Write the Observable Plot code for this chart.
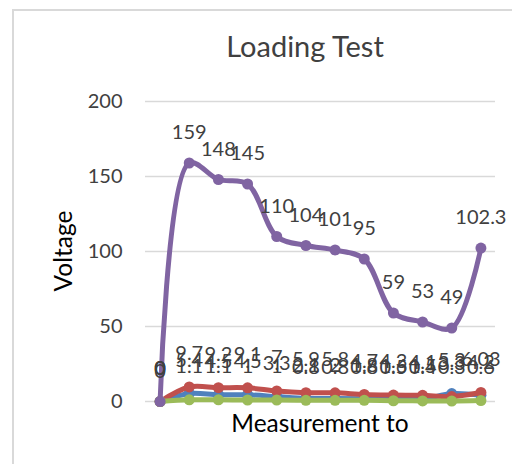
<!DOCTYPE html>
<html><head><meta charset="utf-8">
<script src="https://cdn.jsdelivr.net/npm/d3@7"></script>
<script src="https://cdn.jsdelivr.net/npm/@observablehq/plot@0.6"></script>
<style>
html,body{margin:0;padding:0;background:#fff;overflow:hidden;}
#wrap{position:relative;width:512px;height:464px;font-family:Lato,"Open Sans",sans-serif;color:#404040;}
#frame{position:absolute;left:12px;top:9px;width:600px;height:600px;border:2px solid #d9d9d9;box-sizing:border-box;}
#title{position:absolute;left:0;top:28px;width:610px;text-align:center;font-size:29px;}
#xlab{position:absolute;left:0;top:408px;width:640px;text-align:center;font-size:24.5px;color:#000;}
#ylab{position:absolute;left:62px;top:251px;transform:translate(-50%,-50%) rotate(-90deg);font-size:24.5px;color:#000;white-space:nowrap;}
#chart{position:absolute;left:0;top:0;}
</style></head>
<body><div id="wrap"><div id="frame"></div><div id="chart"></div>
<div id="title">Loading Test</div><div id="xlab">Measurement to</div><div id="ylab">Voltage</div></div>
<script>
const idx = [0,1,2,3,4,5,6,7,8,9,10,11];
const seriesNames = ["Blue","Red","Green","Purple"];
const blueVals = [0,5.4,4.5,4.5,3.3,2.1,2,1.8,1.6,1.5,5.3,4.2];
const redVals = [0,9.7,9.2,9.1,7,5.9,5.8,4.7,4.3,4.1,3.3,6.03];
const greenVals = [0,1.1,1.1,1,1,0.8,0.8,0.8,0.5,0.4,0.3,0.6];
const purpleVals = [0,159,148,145,110,104,101,95,59,53,49,102.3];
const colors = ["#4F81BD","#C0504D","#9BBB59","#8064A2"];
const yTicks = [0,50,100,150,200];

const all = [blueVals,redVals,greenVals,purpleVals];
const rows = [];
all.forEach((vals,s)=>vals.forEach((v,i)=>rows.push({s:seriesNames[s],x:idx[i],y:v})));

const marks = [
  Plot.ruleY(yTicks,{stroke:"#d9d9d9",strokeWidth:1.5}),
  Plot.axisY({ticks:yTicks,tickSize:0,tickPadding:23,fontSize:20,label:null,fill:"#404040"})
];
seriesNames.forEach((n,s)=>{
  const d = rows.filter(r=>r.s===n);
  marks.push(Plot.line(d,{x:"x",y:"y",stroke:colors[s],strokeWidth:5,curve:"catmull-rom"}));
  marks.push(Plot.dot(d,{x:"x",y:"y",fill:colors[s],r:5.5,stroke:"none"}));
});
seriesNames.forEach((n,s)=>{
  const d = rows.filter(r=>r.s===n);
  marks.push(Plot.text(d,{x:"x",y:"y",text:d=>String(d.y),dy:n==="Purple"?-30:-33,fill:"#404040",fontSize:20}));
});

const chart = Plot.plot({
  width:512,height:464,
  marginLeft:145,marginRight:17,marginTop:101,marginBottom:63,
  x:{domain:[-0.5,11.5],axis:null},
  y:{domain:[0,200],axis:null},
  style:{fontFamily:"Lato, 'Open Sans', sans-serif",background:"transparent",overflow:"visible"},
  marks
});
document.getElementById("chart").appendChild(chart);
</script></body></html>
